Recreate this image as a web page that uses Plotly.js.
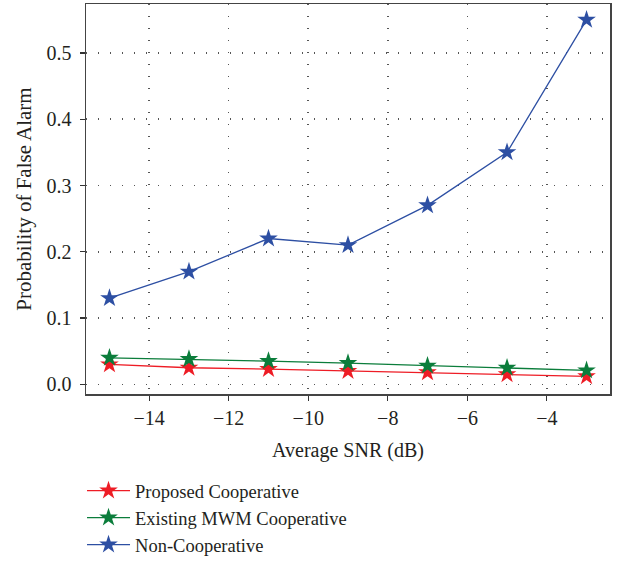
<!DOCTYPE html>
<html><head><meta charset="utf-8">
<script src="https://cdn.plot.ly/plotly-3.0.1.min.js"></script>
<style>html,body{margin:0;padding:0;background:#fff}#chart{width:622px;height:561px}</style>
</head><body><div id="chart"></div>
<script>
const snr = [-15, -13, -11, -9, -7, -5, -3];
const proposed = [0.030, 0.025, 0.023, 0.020, 0.018, 0.015, 0.012];
const existingMWM = [0.040, 0.038, 0.035, 0.032, 0.028, 0.025, 0.021];
const nonCoop = [0.13, 0.17, 0.22, 0.21, 0.27, 0.35, 0.55];
const names = ["Proposed Cooperative", "Existing MWM Cooperative", "Non-Cooperative"];
const colors = ["#ee1c25", "#0b7d3b", "#2d4fa3"];
const series = [proposed, existingMWM, nonCoop];
const xTickVals = [-14, -12, -10, -8, -6, -4];
const xTickText = ["\u221214", "\u221212", "\u221210", "\u22128", "\u22126", "\u22124"];
const yTickVals = [0, 0.1, 0.2, 0.3, 0.4, 0.5];
const yTickText = ["0.0", "0.1", "0.2", "0.3", "0.4", "0.5"];

const font = "'Liberation Serif', 'Times New Roman', serif";
const traces = series.map((y, i) => ({
  x: snr, y: y, name: names[i], type: "scatter", mode: "lines+markers",
  line: {color: colors[i], width: 1.3},
  marker: {symbol: "star", size: 14, color: colors[i]}
}));

const axisCommon = {
  ticks: "outside", ticklen: 5, tickcolor: "#333", tickwidth: 1.3,
  showline: true, linecolor: "#444", linewidth: 1.5, mirror: true,
  showgrid: true, gridcolor: "#555", griddash: "1px,11px", gridwidth: 1.5,
  zeroline: false, tickfont: {family: font, size: 20}, automargin: false
};

const layout = {
  width: 622, height: 561,
  margin: {l: 86, r: 12, t: 4, b: 167, autoexpand: false},
  paper_bgcolor: "#fff", plot_bgcolor: "#fff",
  font: {family: font, size: 20, color: "#231f20"},
  showlegend: true,
  legend: {x: -0.0076, y: -0.2, xanchor: "left", yanchor: "top", itemwidth: 43,
    font: {family: font, size: 18.5, color: "#231f20"}, tracegroupgap: 0},
  xaxis: Object.assign({}, axisCommon, {
    range: [-15.59, -2.41], tickvals: xTickVals, ticktext: xTickText,
    title: {text: "Average SNR (dB)", font: {family: font, size: 20}, standoff: 15}
  }),
  yaxis: Object.assign({}, axisCommon, {
    range: [-0.0146, 0.5739], tickvals: yTickVals, ticktext: yTickText,
    ticklabelstandoff: 4,
    title: {text: "Probability of False Alarm", font: {family: font, size: 21}, standoff: 9}
  })
};
Plotly.newPlot("chart", traces, layout, {displayModeBar: false, staticPlot: true});
</script></body></html>
